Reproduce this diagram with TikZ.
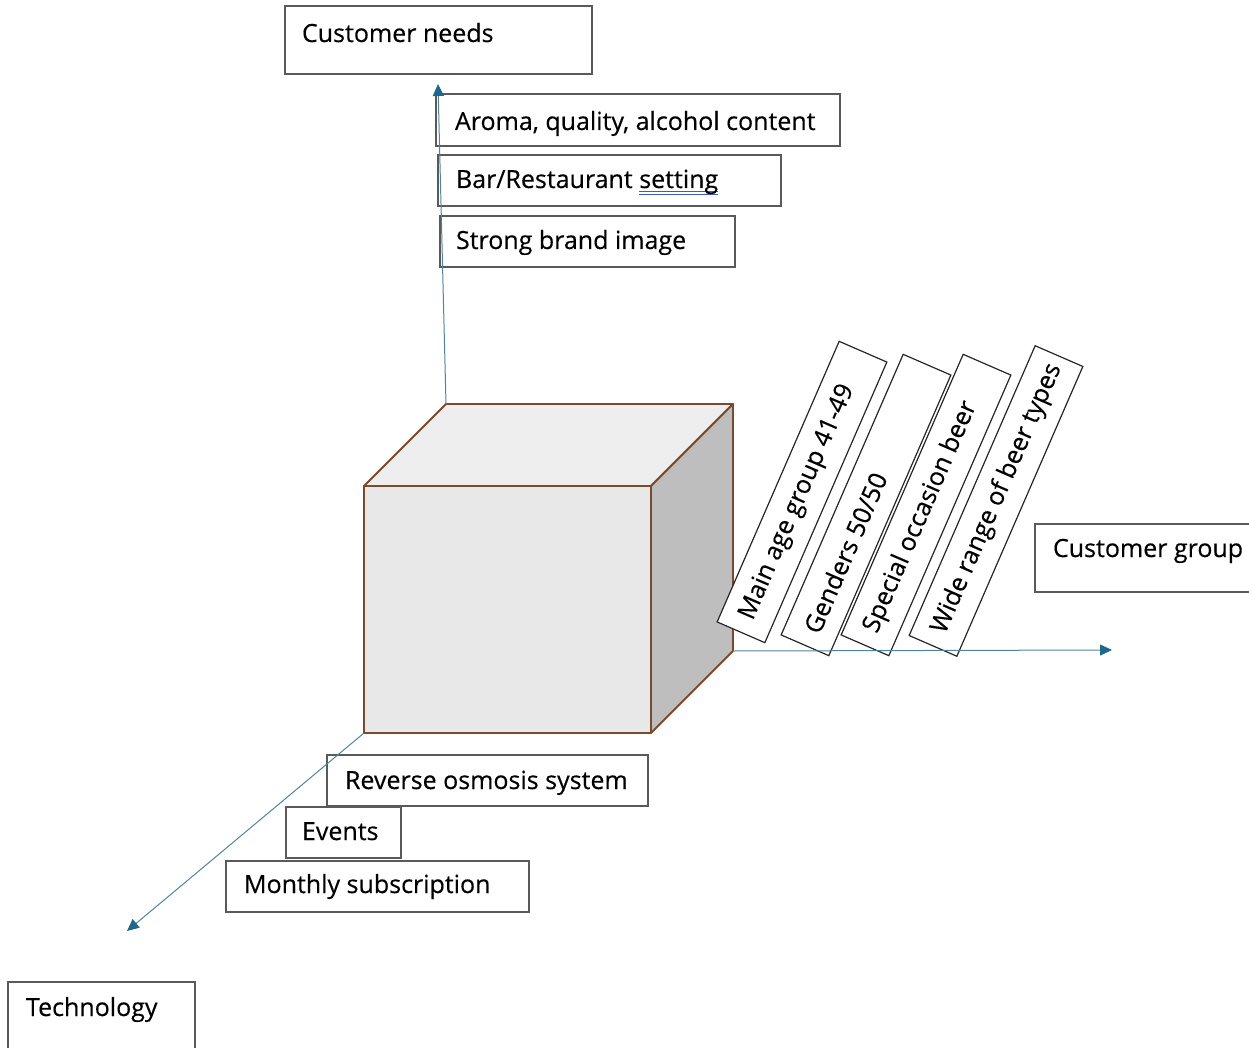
\documentclass[tikz,border=0pt]{standalone}
\usepackage{fontspec}
\setmainfont{Open Sans}[FakeBold=0.35]
\usetikzlibrary{arrows.meta}

\definecolor{axisline}{RGB}{80,132,156}
\definecolor{axishead}{RGB}{31,104,140}
\definecolor{edgebrown}{RGB}{122,74,46}
\definecolor{frontgray}{RGB}{232,232,232}
\definecolor{topgray}{RGB}{238,238,238}
\definecolor{sidegray}{RGB}{190,190,190}
\definecolor{framegray}{RGB}{90,90,90}
\definecolor{ulblue}{RGB}{60,92,196}

% one line of text, left aligned in a fixed width, after a left inset
\newcommand\boxline[3]{\makebox[#1pt][l]{\kern#2pt #3}}
% doubled blue underline under a word
\newcommand\dblunder[1]{\setbox0\hbox{#1}%
  \rlap{\color{ulblue}\rule[-4.5pt]{\wd0}{1.1pt}}%
  \rlap{\color{ulblue}\rule[-7.5pt]{\wd0}{1.1pt}}\box0}

\begin{document}
\begin{tikzpicture}[x=1pt,y=-1pt,
  every node/.style={font=\fontsize{25}{30}\selectfont, text=black},
  labelbox/.style={draw=framegray, line width=1.2pt, fill=white,
    anchor=north west, inner sep=0pt, outer sep=0pt},
  rotbox/.style={draw=black!85, line width=1.2pt, fill=white,
    inner sep=0pt, outer sep=0pt, minimum height=52pt, rotate=66.5},
  cubeedge/.style={draw=edgebrown, line width=1.8pt, line join=round},
  axis/.style={draw=axisline, line width=1pt,
    -{Triangle[length=12pt,width=11pt,color=axishead]}}]

\useasboundingbox (0,0) rectangle (1249,1048);
\clip (0,0) rectangle (1249,1048);

% cube corners
\coordinate (ftl) at (364,486);
\coordinate (ftr) at (651,486);
\coordinate (fbr) at (651,733);
\coordinate (fbl) at (364,733);
\coordinate (btl) at (446,404);
\coordinate (btr) at (733,404);
\coordinate (bbr) at (733,651);

% axis end points
\coordinate (tipN) at (438,84);
\coordinate (tipE) at (1112,650);
\coordinate (tipT) at (127,931);

% cube faces
\path[cubeedge, fill=topgray] (ftl) -- (btl) -- (btr) -- (ftr) -- cycle;
\path[cubeedge, fill=sidegray] (ftr) -- (btr) -- (bbr) -- (fbr) -- cycle;
\path[cubeedge, fill=frontgray] (ftl) -- (ftr) -- (fbr) -- (fbl) -- cycle;

% axis titles
\node[labelbox, text height=36pt, text depth=32pt] (needs) at (285,6)
  {\boxline{307}{17}{Customer needs}};
\node[labelbox, text height=33pt, text depth=35pt] (group) at (1035,524)
  {\boxline{250}{18}{Customer group}};
\node[labelbox, text height=34pt, text depth=50pt] (tech) at (8,982)
  {\boxline{187}{18}{Technology}};

% customer needs
\node[labelbox, text height=36pt, text depth=16pt] (aroma) at (436,94)
  {\boxline{404}{19}{Aroma, quality, alcohol content}};
\node[labelbox, text height=33pt, text depth=18pt] (bar) at (438,155)
  {\boxline{343}{18}{Bar/Restaurant \dblunder{setting}}};
\node[labelbox, text height=33pt, text depth=18pt] (brand) at (440,216)
  {\boxline{295}{16}{Strong brand image}};

% technology
\node[labelbox, text height=34pt, text depth=17pt] (osmosis) at (327,755)
  {\boxline{321}{18}{Reverse osmosis system}};
\node[labelbox, text height=33pt, text depth=18pt] (events) at (286,807)
  {\boxline{115}{16}{Events}};
\node[labelbox, text height=32pt, text depth=19pt] (subscr) at (226,861)
  {\boxline{303}{18}{Monthly subscription}};

% customer group
\node[rotbox] (age) at (802,492) {\boxline{306}{15}{Main age group 41-49}};
\node[rotbox] (gender) at (866,505) {\boxline{306}{15}{Genders 50/50}};
\node[rotbox] (occasion) at (926,505) {\boxline{306}{15}{Special occasion beer}};
\node[rotbox] (range) at (996,501) {\boxline{316}{15}{Wide range of beer types}};

% axes
\draw[axis] (btl) -- (tipN);
\draw[axis] (bbr) -- (tipE);
\draw[axis] (fbl) -- (tipT);
\end{tikzpicture}
\end{document}
